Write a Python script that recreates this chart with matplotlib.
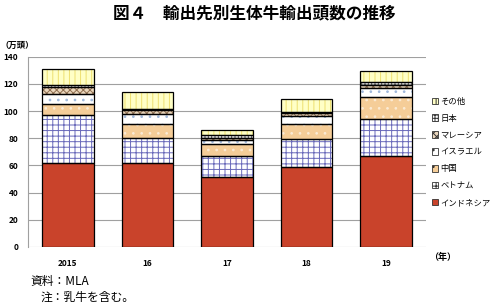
import matplotlib
matplotlib.use("Agg")
import matplotlib.pyplot as plt
from matplotlib.patches import Patch
import numpy as np

plt.rcParams['font.family'] = ['Noto Sans CJK JP', 'DejaVu Sans']
plt.rcParams['hatch.linewidth'] = 0.7

# データ（万頭）
years = ["2015", "16", "17", "18", "19"]
indonesia = [61.5, 61.5, 51.1, 58.5, 67.3]
vietnam = [36.0, 18.8, 16.0, 20.6, 26.6]
china = [7.4, 10.0, 8.4, 11.1, 16.2]
israel = [8.0, 7.4, 3.0, 6.3, 7.1]
malaysia = [5.0, 3.0, 2.0, 1.8, 2.2]
japan = [1.0, 1.2, 1.7, 1.0, 1.8]
others = [12.5, 12.0, 4.2, 9.3, 8.5]

series = [
    ("インドネシア", indonesia, "#C9432B", None, "#C9432B"),
    ("ベトナム", vietnam, "white", "+++", "#6A6ABA"),
    ("中国", china, "#F5CD98", "..", "#FBEBD5"),
    ("イスラエル", israel, "white", "..", "#9FB8DC"),
    ("マレーシア", malaysia, "#EAD6BC", "xxxxx", "#8E6E50"),
    ("日本", japan, "white", "+++++", "#555555"),
    ("その他", others, "#FFFFC6", "|||", "#EEE070"),
]

fig = plt.figure(figsize=(4.94, 3.04), dpi=100)
ax = fig.add_axes([0.057, 0.188, 0.805, 0.625])

x = np.arange(len(years))
w = 0.65
bottom = np.zeros(len(years))
handles = []
for name, vals, fc, hatch, hc in series:
    vals = np.array(vals)
    ax.bar(x, vals, w, bottom=bottom, color=fc, hatch=hatch, edgecolor=hc,
           linewidth=0, zorder=2)
    ax.bar(x, vals, w, bottom=bottom, facecolor="none", edgecolor="black",
           linewidth=0.9, zorder=3)
    bottom += vals
    handles.append(Patch(facecolor=fc, hatch=hatch, edgecolor="#333333",
                         linewidth=0.6, label=name))

ax.set_xlim(-0.5, len(years) - 0.5)
ax.set_ylim(0, 140)
ax.set_yticks(np.arange(0, 141, 20))
ax.set_xticks(x)
ax.set_xticklabels(years, fontsize=6, fontweight="bold")
ax.tick_params(axis="y", labelsize=6, length=0, pad=7)
ax.tick_params(axis="x", length=0, pad=9)
for lab in ax.get_yticklabels():
    lab.set_fontweight("bold")
ax.grid(axis="y", color="#A0A0A0", linewidth=0.8, zorder=0)
for s in ["top", "right", "bottom"]:
    ax.spines[s].set_visible(False)
ax.spines["left"].set_color("#A0A0A0")

ax.legend(handles=handles[::-1], loc="center left", bbox_to_anchor=(1.0, 0.5),
          frameon=False, fontsize=6, handlelength=0.8, handleheight=0.8,
          handletextpad=0.25, labelspacing=0.95, borderaxespad=0.3)

fig.text(0.515, 0.955, "図４　輸出先別生体牛輸出頭数の推移", ha="center", va="center",
         fontsize=12, fontweight="bold")
fig.text(0.002, 0.852, "（万頭）", ha="left", va="center", fontsize=6, fontweight="bold")
fig.text(0.868, 0.152, "（年）", ha="left", va="center", fontsize=6.5, fontweight="bold")
fig.text(0.062, 0.075, "資料：MLA", ha="left", va="center", fontsize=8.5)
fig.text(0.083, 0.022, "注：乳牛を含む。", ha="left", va="center", fontsize=8.5)

fig.savefig("out.png", dpi=100)
